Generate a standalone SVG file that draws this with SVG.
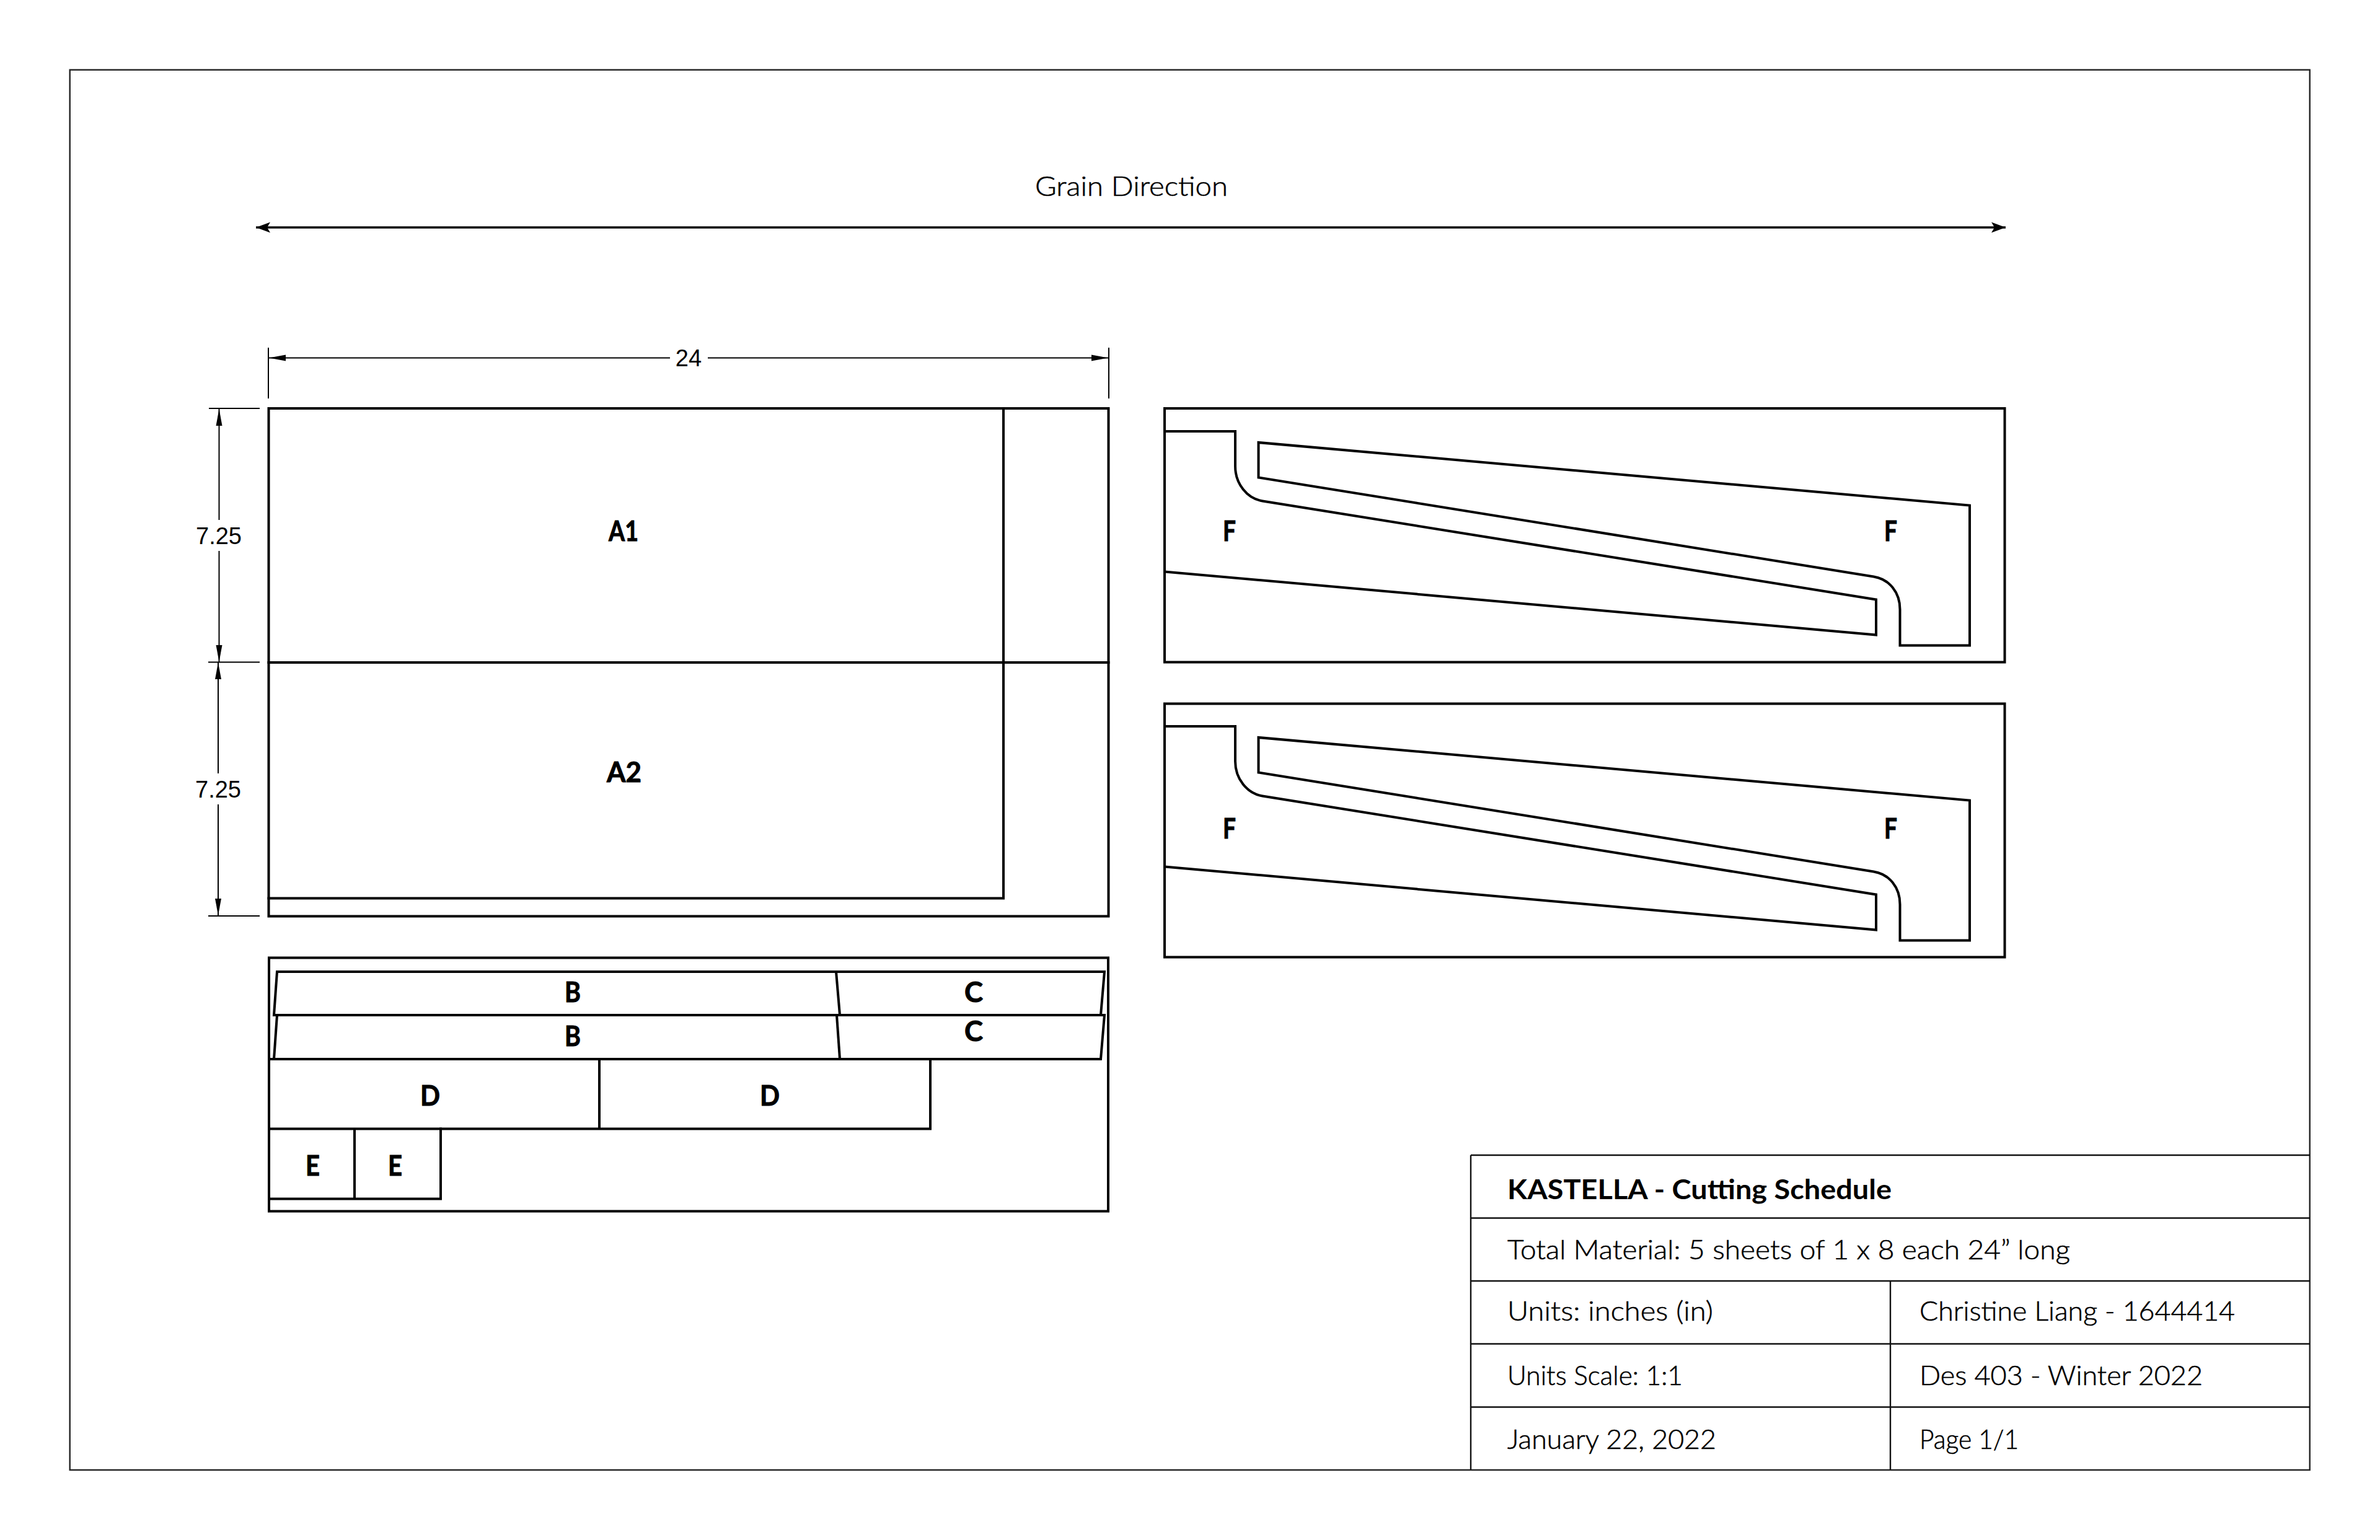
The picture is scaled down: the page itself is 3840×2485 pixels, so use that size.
<svg xmlns="http://www.w3.org/2000/svg" width="3840" height="2485" viewBox="0 0 3840 2485">
<style>
.p{fill:none;stroke:#000;stroke-width:4;stroke-linejoin:miter;stroke-linecap:square}
.t{fill:none;stroke:#111;stroke-width:2.4}
.d{fill:none;stroke:#000;stroke-width:2}
.l{font-family:"Lato","Liberation Sans",sans-serif;font-weight:700;font-size:46px;fill:#000;stroke:#000;stroke-width:1}
.m{font-family:"Liberation Sans",Arial,sans-serif;font-size:38px;fill:#000}
.r{font-family:"Lato","Noto Sans",sans-serif;font-weight:300;font-size:44px;fill:#000;stroke:#000;stroke-width:0.6}
.b{font-family:"Lato","Noto Sans",sans-serif;font-weight:700;font-size:44px;fill:#000}
</style>
<defs>
<marker id="dim" markerUnits="userSpaceOnUse" markerWidth="28" markerHeight="12" refX="27" refY="6" orient="auto-start-reverse"><path d="M0 1 L27 6 L0 11 Z" fill="#000"/></marker>
<marker id="grain" markerUnits="userSpaceOnUse" markerWidth="24" markerHeight="18" refX="23" refY="9" orient="auto-start-reverse"><path d="M0 0.5 L23 9 L0 17.5 L5 9 Z" fill="#000"/></marker>
</defs>
<rect id="bg" x="0" y="0" width="3840" height="2485" fill="#fff"/>
<rect id="frame" x="112.7" y="112.7" width="3614" height="2259.3" fill="none" stroke="#222" stroke-width="2.4"/>

<g id="connectors">
<line class="d" style="stroke-width:3.4" x1="413" y1="367" x2="3236" y2="367" marker-start="url(#grain)" marker-end="url(#grain)"/>
<line class="d" x1="433" y1="561" x2="433" y2="643"/>
<line class="d" x1="1789" y1="561" x2="1789" y2="643"/>
<line class="d" x1="434" y1="577.5" x2="1081" y2="577.5" marker-start="url(#dim)"/>
<line class="d" x1="1142" y1="577.5" x2="1788" y2="577.5" marker-end="url(#dim)"/>
<line class="d" x1="337" y1="659" x2="419" y2="659"/>
<line class="d" x1="336" y1="1068.5" x2="419" y2="1068.5"/>
<line class="d" x1="336" y1="1478" x2="419" y2="1478"/>
<line class="d" x1="353.5" y1="660" x2="353.5" y2="839" marker-start="url(#dim)"/>
<line class="d" x1="353.5" y1="889" x2="353.5" y2="1068" marker-end="url(#dim)"/>
<line class="d" x1="352" y1="1069" x2="352" y2="1248" marker-start="url(#dim)"/>
<line class="d" x1="352" y1="1298" x2="352" y2="1477" marker-end="url(#dim)"/>
</g>

<g id="grain-label"><text class="r" x="1670" y="316" textLength="311" lengthAdjust="spacingAndGlyphs">Grain Direction</text></g>
<g id="dim-24"><text class="m" x="1111" y="591" text-anchor="middle">24</text></g>
<g id="dim-725-a"><text class="m" x="353" y="878" text-anchor="middle">7.25</text></g>
<g id="dim-725-b"><text class="m" x="352" y="1287" text-anchor="middle">7.25</text></g>

<g id="sheet-a">
<rect class="p" x="433.5" y="659" width="1355" height="819.5"/>
<line class="p" x1="433.5" y1="1069" x2="1788.5" y2="1069"/>
<polyline class="p" points="433.5,1449.5 1619,1449.5 1619,659"/>
<text class="l" x="982" y="873" textLength="48" lengthAdjust="spacingAndGlyphs">A1</text>
<text class="l" x="979" y="1261.5" textLength="56" lengthAdjust="spacingAndGlyphs">A2</text>
</g>

<g id="sheet-bcde">
<rect class="p" x="434" y="1545.5" width="1354" height="409"/>
<polygon class="p" points="447,1568 1782,1568 1776,1638 442,1638"/>
<line class="p" style="stroke-linecap:butt" x1="1349" y1="1568" x2="1355" y2="1638"/>
<polygon class="p" points="447,1638 1782,1638 1776,1709 442,1709"/>
<line class="p" style="stroke-linecap:butt" x1="1350" y1="1638" x2="1355" y2="1709"/>
<polyline class="p" points="434,1709 1501,1709 1501,1821.5 434,1821.5"/>
<line class="p" style="stroke-linecap:butt" x1="967" y1="1709" x2="967" y2="1821.5"/>
<polyline class="p" points="434,1934.5 711,1934.5 711,1821.5"/>
<line class="p" style="stroke-linecap:butt" x1="572" y1="1821.5" x2="572" y2="1934.5"/>
<text class="l" x="911" y="1617" textLength="26" lengthAdjust="spacingAndGlyphs">B</text>
<text class="l" x="1556" y="1617" textLength="30" lengthAdjust="spacingAndGlyphs">C</text>
<text class="l" x="911" y="1688" textLength="26" lengthAdjust="spacingAndGlyphs">B</text>
<text class="l" x="1556" y="1680" textLength="30" lengthAdjust="spacingAndGlyphs">C</text>
<text class="l" x="678" y="1784" textLength="32" lengthAdjust="spacingAndGlyphs">D</text>
<text class="l" x="1226" y="1784" textLength="32" lengthAdjust="spacingAndGlyphs">D</text>
<text class="l" x="493" y="1897" textLength="23" lengthAdjust="spacingAndGlyphs">E</text>
<text class="l" x="626" y="1897" textLength="23" lengthAdjust="spacingAndGlyphs">E</text>
</g>

<g id="sheet-f1">
<rect class="p" x="1879" y="659" width="1355.5" height="409.5"/>
<path class="p" style="stroke-linecap:butt" d="M1879 696H1993V752.5C1993 780.5 2012 804.5 2037 808.5L3027 967.5V1024.5L1879 922.5"/>
<path class="p" d="M2030.5 714V770.5L3023 930.5C3048 934.5 3065.5 955.5 3065.5 983.5V1041.5H3178V815.5Z"/>
<text class="l" x="1973" y="872.5" textLength="21" lengthAdjust="spacingAndGlyphs">F</text>
<text class="l" x="3040" y="872.5" textLength="21" lengthAdjust="spacingAndGlyphs">F</text>
</g>

<g id="sheet-f2">
<rect class="p" x="1879" y="1135.5" width="1355.5" height="409"/>
<path class="p" style="stroke-linecap:butt" d="M1879 1172H1993V1228.5C1993 1256.5 2012 1280.5 2037 1284.5L3027 1443.5V1500.5L1879 1398.5"/>
<path class="p" d="M2030.5 1190V1246.5L3023 1406.5C3048 1410.5 3065.5 1431.5 3065.5 1459.5V1517.5H3178V1291.5Z"/>
<text class="l" x="1973" y="1352.5" textLength="21" lengthAdjust="spacingAndGlyphs">F</text>
<text class="l" x="3040" y="1352.5" textLength="21" lengthAdjust="spacingAndGlyphs">F</text>
</g>

<g id="title-block">
<path class="t" d="M2373 1864V2372M2373 1864H3727M2373 1965.5H3727M2373 2067H3727M2373 2168.5H3727M2373 2270.5H3727M3050 2067V2372"/>
<text class="b" x="2432" y="1935" textLength="620" lengthAdjust="spacingAndGlyphs">KASTELLA - Cutting Schedule</text>
<text class="r" x="2432" y="2032" textLength="908" lengthAdjust="spacingAndGlyphs">Total Material: 5 sheets of 1 x 8 each 24” long</text>
<text class="r" x="2432" y="2131" textLength="332" lengthAdjust="spacingAndGlyphs">Units: inches (in)</text>
<text class="r" x="3097" y="2131" textLength="509" lengthAdjust="spacingAndGlyphs">Christine Liang - 1644414</text>
<text class="r" x="2432" y="2235" textLength="283" lengthAdjust="spacingAndGlyphs">Units Scale: 1:1</text>
<text class="r" x="3097" y="2235" textLength="457" lengthAdjust="spacingAndGlyphs">Des 403 - Winter 2022</text>
<text class="r" x="2432" y="2338" textLength="337" lengthAdjust="spacingAndGlyphs">January 22, 2022</text>
<text class="r" x="3097" y="2338" textLength="160" lengthAdjust="spacingAndGlyphs">Page 1/1</text>
</g>
</svg>
